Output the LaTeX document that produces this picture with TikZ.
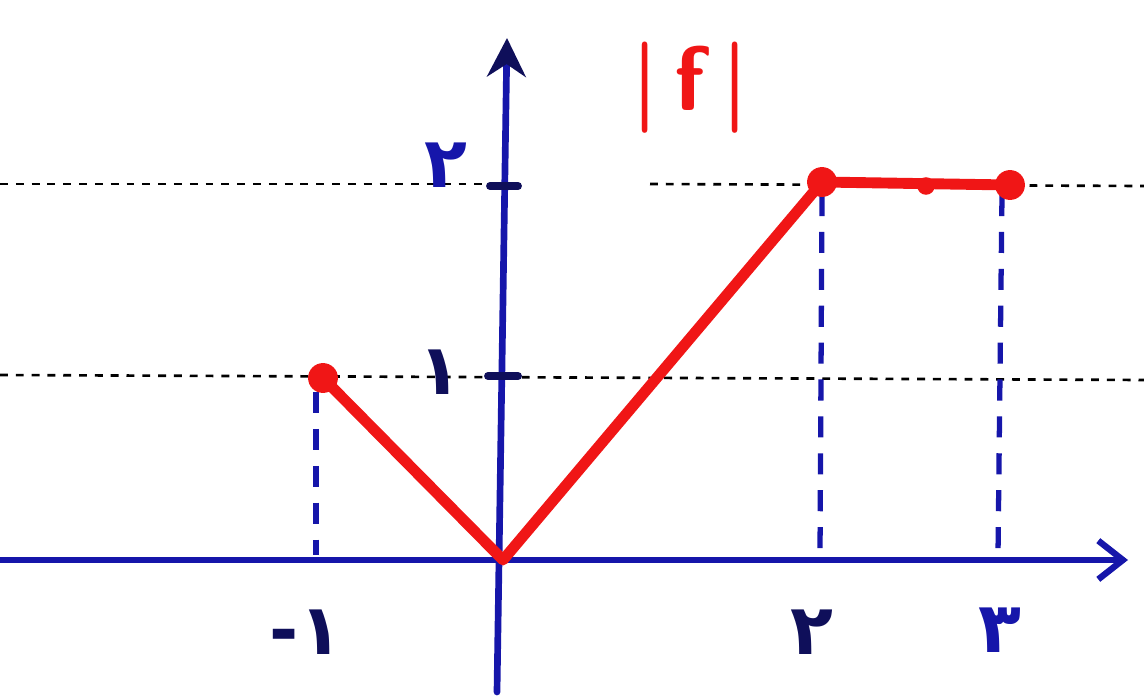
\documentclass[tikz,border=0pt]{standalone}
\usepackage{fontspec}
\newfontfamily\digitfont{DejaVu Sans}[BoldFont={DejaVu Sans Bold}]
\usetikzlibrary{arrows.meta}
\definecolor{penblue}{RGB}{22,22,170}
\definecolor{penred}{RGB}{240,22,22}
\definecolor{navy}{RGB}{15,15,90}
\begin{document}
\begin{tikzpicture}[x=0.02cm,y=-0.02cm,
  axis/.style={penblue,line width=3.8pt,line cap=round},
  guide/.style={black,line width=1.5pt,dash pattern=on 4.5pt off 4.5pt},
  drop/.style={penblue,line width=3pt,dash pattern=on 12pt off 9pt},
  graph/.style={penred,line width=6.2pt,line join=round,line cap=round},
  pt/.style={circle,fill=penred,inner sep=0pt,minimum size=17pt},
  smallpt/.style={circle,fill=penred,inner sep=0pt,minimum size=10pt},
  tick/.style={navy,line width=4.5pt,line cap=round},
  lab/.style={font=\digitfont\bfseries\fontsize{40}{40}\selectfont,inner sep=0pt}]
\useasboundingbox (0,0) rectangle (1144,700);
% coordinates
\coordinate (O) at (503,560);
\coordinate (xs) at (0,560);
\coordinate (xe) at (1128,560);
\coordinate (ys) at (497,692);
\coordinate (ye) at (507,38);
\coordinate (A) at (323,378);
\coordinate (B) at (822,182);
\coordinate (C) at (1010,185);
\coordinate (M) at (926,186);
% dotted guides
\coordinate (g2l) at (0,184);
\coordinate (g2a) at (505,184);
\coordinate (g2b) at (650,184);
\coordinate (g2r) at (1144,186);
\coordinate (g1l) at (0,375);
\coordinate (g1r) at (1144,380);
\draw[guide] (g2l) -- (g2a);
\draw[guide] (g2b) -- (g2r);
\draw[guide] (g1l) -- (g1r);
% blue drop lines
\coordinate (d1t) at (316,392);
\coordinate (d1b) at (316,555);
\coordinate (d2t) at (822,195);
\coordinate (d2b) at (820,555);
\coordinate (d3t) at (1002,195);
\coordinate (d3b) at (998,555);
\draw[drop] (d1t) -- (d1b);
\draw[drop] (d2t) -- (d2b);
\draw[drop] (d3t) -- (d3b);
% axes
\draw[axis,-{Straight Barb[length=14pt,width=22pt,line width=3.6pt]}] (xs) -- (xe);
\draw[axis,-{Stealth[length=22pt,width=22pt,navy]}] (ys) -- (ye);
% ticks
\coordinate (t1l) at (488,376);
\coordinate (t1r) at (518,376);
\coordinate (t2l) at (490,186);
\coordinate (t2r) at (518,186);
\draw[tick] (t1l) -- (t1r);
\draw[tick] (t2l) -- (t2r);
% graph
\draw[graph] (A) -- (O) -- (B) -- (C);
\node[pt] (pA) at (A) {};
\node[pt] (pB) at (B) {};
\node[pt] (pC) at (C) {};
\node[smallpt] (pM) at (M) {};
% labels
\node[lab,text=penblue] (l2y) at (446,165) {۲};
\node[lab,text=navy] (l1y) at (440,372) {۱};
\node[lab,text=navy] (lm1) at (306,632) {-۱};
\node[lab,text=navy] (l2x) at (812,632) {۲};
\node[lab,text=penblue] (l3x) at (1000,630) {۳};
\node[penred,inner sep=0pt,font=\sffamily\bfseries\fontsize{52}{52}\selectfont] (title) at (690,88) {|\,f\,|};
\end{tikzpicture}
\end{document}
